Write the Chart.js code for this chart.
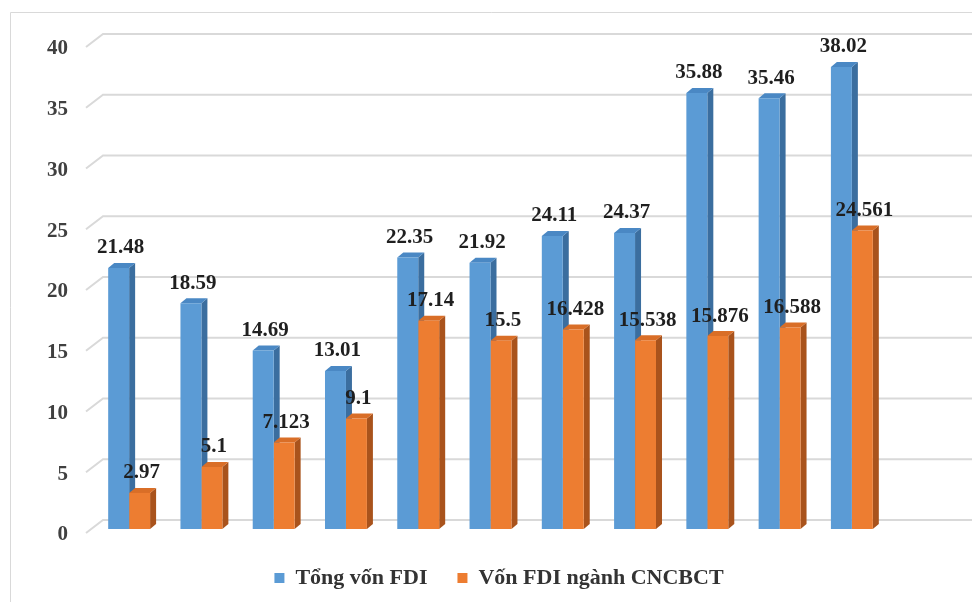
<!DOCTYPE html>
<html>
<head>
<meta charset="utf-8">
<script src="https://cdn.jsdelivr.net/npm/chart.js@4.4.1/dist/chart.umd.min.js"></script>
<style>
  html, body { margin: 0; padding: 0; background: #ffffff; }
  #wrap { width: 972px; height: 602px; position: relative; }
</style>
</head>
<body>
<div id="wrap"><canvas id="c" width="972" height="602"></canvas></div>
<script>
// Categories (one per pair of columns) and series values
const categories = ['1', '2', '3', '4', '5', '6', '7', '8', '9', '10', '11'];
const tongVonFDI = [21.48, 18.59, 14.69, 13.01, 22.35, 21.92, 24.11, 24.37, 35.88, 35.46, 38.02];
const vonFDICNCBCT = [2.97, 5.1, 7.123, 9.1, 17.14, 15.5, 16.428, 15.538, 15.876, 16.588, 24.561];
const seriesNames = ['Tổng vốn FDI', 'Vốn FDI ngành CNCBCT'];
const yTicks = [0, 5, 10, 15, 20, 25, 30, 35, 40];

const SERIF = '"Liberation Serif", "Times New Roman", serif';

// Face colours for the pseudo-3D columns
const faces = [
  { front: '#5B9BD5', side: '#3B6E9F', top: '#4A88C4' },
  { front: '#ED7D31', side: '#A9531C', top: '#D96E27' }
];
const DX = 6, DY = 5;

// Frame, back-wall gridlines and column side/top faces
const depthPlugin = {
  id: 'depth',
  beforeDatasetsDraw(chart) {
    const ctx = chart.ctx;
    const y = chart.scales.y;
    ctx.save();
    // outer frame
    ctx.strokeStyle = '#D9D9D9';
    ctx.lineWidth = 1;
    ctx.beginPath();
    ctx.moveTo(10.5, 602);
    ctx.lineTo(10.5, 12.5);
    ctx.lineTo(972, 12.5);
    ctx.stroke();
    // gridlines on side wall and back wall
    ctx.strokeStyle = '#D9D9D9';
    ctx.lineWidth = 2;
    yTicks.forEach(v => {
      const yf = y.getPixelForValue(v);
      ctx.beginPath();
      ctx.moveTo(86, yf + 4);
      ctx.lineTo(103, yf - 9);
      ctx.lineTo(972, yf - 9);
      ctx.stroke();
    });
    // side and top faces, left series first so the right one covers it
    chart.data.datasets.forEach((ds, di) => {
      const meta = chart.getDatasetMeta(di);
      const f = faces[di];
      meta.data.forEach(bar => {
        const p = bar.getProps(['x', 'y', 'base', 'width'], true);
        const l = p.x - p.width / 2, r = p.x + p.width / 2;
        // side face
        ctx.fillStyle = f.side;
        ctx.beginPath();
        ctx.moveTo(r, p.y);
        ctx.lineTo(r + DX, p.y - DY);
        ctx.lineTo(r + DX, p.base - DY);
        ctx.lineTo(r, p.base);
        ctx.closePath();
        ctx.fill();
        // top face
        ctx.fillStyle = f.top;
        ctx.beginPath();
        ctx.moveTo(l, p.y);
        ctx.lineTo(l + DX, p.y - DY);
        ctx.lineTo(r + DX, p.y - DY);
        ctx.lineTo(r, p.y);
        ctx.closePath();
        ctx.fill();
      });
    });
    ctx.restore();
  },
  afterDatasetsDraw(chart) {
    const ctx = chart.ctx;
    ctx.save();
    ctx.font = 'bold 21px ' + SERIF;
    ctx.fillStyle = '#1F1F1F';
    ctx.textAlign = 'center';
    ctx.textBaseline = 'middle';
    chart.data.datasets.forEach((ds, di) => {
      const meta = chart.getDatasetMeta(di);
      meta.data.forEach((bar, i) => {
        const p = bar.getProps(['x', 'y'], true);
        ctx.fillText(String(ds.data[i]), p.x + 2, p.y - 20);
      });
    });
    ctx.restore();
  }
};

new Chart(document.getElementById('c'), {
  type: 'bar',
  data: {
    labels: categories,
    datasets: [
      { label: seriesNames[0], data: tongVonFDI, backgroundColor: faces[0].front,
        borderWidth: 0, barPercentage: 1.0, categoryPercentage: 0.58 },
      { label: seriesNames[1], data: vonFDICNCBCT, backgroundColor: faces[1].front,
        borderWidth: 0, barPercentage: 1.0, categoryPercentage: 0.58 }
    ]
  },
  options: {
    responsive: false,
    animation: false,
    layout: { padding: { top: 43, right: 0, left: 26, bottom: 3 } },
    plugins: {
      legend: {
        position: 'bottom',
        labels: {
          boxWidth: 10, boxHeight: 10,
          color: '#333333',
          padding: 30,
          font: { family: SERIF, size: 22, weight: 'bold' }
        }
      },
      tooltip: { enabled: false }
    },
    scales: {
      x: {
        afterFit(scale) { scale.height = 8; },
        ticks: { display: false },
        grid: { display: false, drawTicks: false },
        border: { display: false }
      },
      y: {
        min: 0, max: 40,
        afterFit(scale) { scale.width = 67; },
        afterBuildTicks(scale) { scale.ticks = yTicks.map(v => ({ value: v })); },
        ticks: {
          padding: 25,
          labelOffset: 6,
          color: '#404040',
          font: { family: SERIF, size: 21, weight: 'bold' }
        },
        grid: { display: false, drawTicks: false },
        border: { display: false }
      },
      // empty right-hand band that holds the open back wall beyond the last column
      yRight: {
        position: 'right',
        min: 0, max: 40,
        afterFit(scale) { scale.width = 84; },
        ticks: { display: false },
        grid: { display: false, drawTicks: false },
        border: { display: false }
      }
    }
  },
  plugins: [depthPlugin]
});
</script>
</body>
</html>
